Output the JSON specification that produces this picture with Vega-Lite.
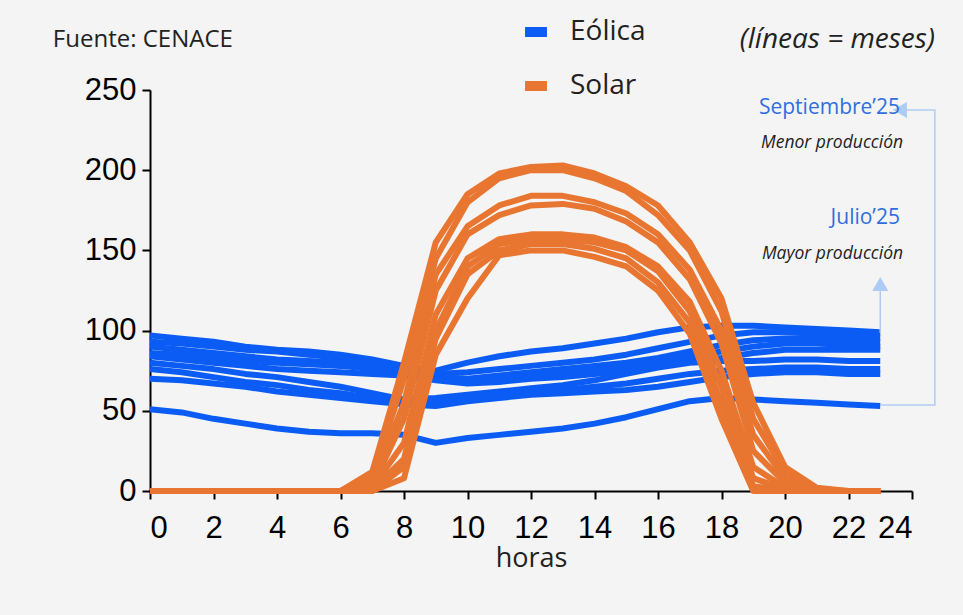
{
  "$schema": "https://vega.github.io/schema/vega-lite/v6.json",
  "autosize": "none",
  "width": 762,
  "height": 401,
  "padding": {"left": 150, "top": 90, "right": 51, "bottom": 124},
  "background": "#f4f4f4",
  "config": {
    "view": {"stroke": null},
    "font": "Liberation Sans",
    "axis": {"domainColor": "black", "tickColor": "black", "domainWidth": 2, "tickWidth": 2, "tickSize": 8, "labelFontSize": 31, "labelColor": "black", "grid": false, "labelFont": "Liberation Sans"}
  },
  "datasets": {
    "prod": [
      {"h":0,"w1":97,"w2":93,"w3":90,"w4":86,"w5":84,"w6":80,"w7":76,"w8":70,"w9":51,"s1":0,"s2":0,"s3":0,"s4":0,"s5":0,"s6":0,"s7":0,"s8":0},
      {"h":1,"w1":95,"w2":92,"w3":88,"w4":85,"w5":82,"w6":78,"w7":74,"w8":69,"w9":49,"s1":0,"s2":0,"s3":0,"s4":0,"s5":0,"s6":0,"s7":0,"s8":0},
      {"h":2,"w1":93,"w2":90,"w3":86,"w4":83,"w5":80,"w6":76,"w7":71,"w8":67,"w9":45,"s1":0,"s2":0,"s3":0,"s4":0,"s5":0,"s6":0,"s7":0,"s8":0},
      {"h":3,"w1":90,"w2":88,"w3":84,"w4":81,"w5":78,"w6":73,"w7":68,"w8":65,"w9":42,"s1":0,"s2":0,"s3":0,"s4":0,"s5":0,"s6":0,"s7":0,"s8":0},
      {"h":4,"w1":88,"w2":87,"w3":82,"w4":80,"w5":76,"w6":71,"w7":66,"w8":62,"w9":39,"s1":0,"s2":0,"s3":0,"s4":0,"s5":0,"s6":0,"s7":0,"s8":0},
      {"h":5,"w1":87,"w2":85,"w3":81,"w4":79,"w5":75,"w6":68,"w7":63,"w8":60,"w9":37,"s1":0,"s2":0,"s3":0,"s4":0,"s5":0,"s6":0,"s7":0,"s8":0},
      {"h":6,"w1":85,"w2":83,"w3":80,"w4":78,"w5":74,"w6":65,"w7":61,"w8":58,"w9":36,"s1":0,"s2":0,"s3":0,"s4":0,"s5":0,"s6":0,"s7":0,"s8":0},
      {"h":7,"w1":82,"w2":80,"w3":78,"w4":76,"w5":73,"w6":61,"w7":58,"w8":56,"w9":36,"s1":12,"s2":8,"s3":5,"s4":3,"s5":2,"s6":1,"s7":0,"s8":0},
      {"h":8,"w1":78,"w2":76,"w3":75,"w4":74,"w5":72,"w6":57,"w7":55,"w8":54,"w9":35,"s1":80,"s2":70,"s3":55,"s4":45,"s5":30,"s6":20,"s7":15,"s8":8},
      {"h":9,"w1":75,"w2":73,"w3":71,"w4":70,"w5":69,"w6":58,"w7":56,"w8":53,"w9":30,"s1":155,"s2":145,"s3":135,"s4":125,"s5":110,"s6":100,"s7":95,"s8":85},
      {"h":10,"w1":80,"w2":74,"w3":70,"w4":68,"w5":67,"w6":60,"w7":58,"w8":56,"w9":33,"s1":185,"s2":180,"s3":165,"s4":160,"s5":145,"s6":140,"s7":135,"s8":120},
      {"h":11,"w1":84,"w2":76,"w3":72,"w4":70,"w5":68,"w6":62,"w7":60,"w8":58,"w9":35,"s1":198,"s2":195,"s3":178,"s4":172,"s5":157,"s6":154,"s7":150,"s8":147},
      {"h":12,"w1":87,"w2":78,"w3":74,"w4":72,"w5":70,"w6":64,"w7":61,"w8":60,"w9":37,"s1":202,"s2":200,"s3":184,"s4":178,"s5":160,"s6":157,"s7":154,"s8":150},
      {"h":13,"w1":89,"w2":80,"w3":76,"w4":73,"w5":71,"w6":66,"w7":63,"w8":61,"w9":39,"s1":203,"s2":200,"s3":184,"s4":179,"s5":160,"s6":157,"s7":154,"s8":150},
      {"h":14,"w1":92,"w2":82,"w3":78,"w4":75,"w5":73,"w6":69,"w7":65,"w8":62,"w9":42,"s1":198,"s2":195,"s3":180,"s4":176,"s5":158,"s6":155,"s7":151,"s8":146},
      {"h":15,"w1":95,"w2":85,"w3":80,"w4":77,"w5":75,"w6":73,"w7":67,"w8":63,"w9":46,"s1":190,"s2":187,"s3":173,"s4":168,"s5":152,"s6":150,"s7":145,"s8":140},
      {"h":16,"w1":99,"w2":89,"w3":83,"w4":80,"w5":78,"w6":77,"w7":70,"w8":65,"w9":51,"s1":178,"s2":172,"s3":160,"s4":155,"s5":140,"s6":137,"s7":130,"s8":125},
      {"h":17,"w1":102,"w2":93,"w3":87,"w4":84,"w5":81,"w6":80,"w7":73,"w8":68,"w9":56,"s1":155,"s2":150,"s3":138,"s4":132,"s5":118,"s6":112,"s7":105,"s8":98},
      {"h":18,"w1":103,"w2":97,"w3":91,"w4":87,"w5":83,"w6":81,"w7":75,"w8":71,"w9":58,"s1":120,"s2":112,"s3":100,"s4":92,"s5":75,"s6":65,"s7":55,"s8":45},
      {"h":19,"w1":103,"w2":99,"w3":94,"w4":90,"w5":86,"w6":81,"w7":76,"w8":73,"w9":57,"s1":55,"s2":45,"s3":35,"s4":25,"s5":15,"s6":8,"s7":3,"s8":0},
      {"h":20,"w1":102,"w2":99,"w3":95,"w4":92,"w5":88,"w6":82,"w7":77,"w8":74,"w9":56,"s1":15,"s2":12,"s3":8,"s4":5,"s5":2,"s6":1,"s7":0,"s8":0},
      {"h":21,"w1":101,"w2":98,"w3":95,"w4":92,"w5":88,"w6":82,"w7":77,"w8":74,"w9":55,"s1":2,"s2":1,"s3":0,"s4":0,"s5":0,"s6":0,"s7":0,"s8":0},
      {"h":22,"w1":100,"w2":97,"w3":94,"w4":91,"w5":88,"w6":81,"w7":76,"w8":73,"w9":54,"s1":0,"s2":0,"s3":0,"s4":0,"s5":0,"s6":0,"s7":0,"s8":0},
      {"h":23,"w1":99,"w2":96,"w3":93,"w4":90,"w5":88,"w6":81,"w7":76,"w8":73,"w9":53,"s1":0,"s2":0,"s3":0,"s4":0,"s5":0,"s6":0,"s7":0,"s8":0}
    ]
  },
  "layer": [
    {
      "data": {"name": "prod"},
      "transform": [
        {"fold": ["w1","w2","w3","w4","w5","w6","w7","w8","w9","s1","s2","s3","s4","s5","s6","s7","s8"], "as": ["serie", "v"]},
        {"calculate": "indexof(datum.serie, 's') === 0 ? 'Solar' : 'Eólica'", "as": "tipo"}
      ],
      "mark": {"type": "line", "strokeWidth": 6, "strokeJoin": "round"},
      "encoding": {
        "x": {"field": "h", "type": "quantitative", "scale": {"domain": [0, 24], "nice": false},
          "axis": {"values": [0,2,4,6,8,10,12,14,16,18,20,22,24], "title": "horas", "titleFontSize": 27, "titleFontWeight": "normal", "titleColor": "#222", "titleFont": "Open Sans", "labelPadding": 14, "titlePadding": 2}},
        "y": {"field": "v", "type": "quantitative", "scale": {"domain": [0, 250], "nice": false},
          "axis": {"values": [0,50,100,150,200,250], "title": null, "labelPadding": 6}},
        "color": {"field": "tipo", "type": "nominal", "sort": ["Eólica", "Solar"],
          "scale": {"domain": ["Eólica", "Solar"], "range": ["#0a5cf5", "#e87530"]},
          "legend": {"title": null, "orient": "none", "legendX": 370, "legendY": -74, "labelFontSize": 28, "labelFont": "Open Sans", "labelColor": "#222", "symbolType": "stroke", "symbolSize": 480, "symbolStrokeWidth": 10, "rowPadding": 14, "labelOffset": 18}},
        "detail": {"field": "serie"},
        "order": {"field": "h"}
      }
    },
    {
      "data": {"values": [
        {"x": 23, "y": 98.5, "g": "a"}, {"x": 23, "y": 126, "g": "a"},
        {"x": 23, "y": 53.6, "g": "b"}, {"x": 24.72, "y": 53.6, "g": "b"}, {"x": 24.72, "y": 237.5, "g": "b"}, {"x": 23.75, "y": 237.5, "g": "b"}
      ]},
      "mark": {"type": "line", "color": "#aecbf5", "strokeWidth": 1.5, "clip": false},
      "encoding": {"x": {"field": "x", "type": "quantitative"}, "y": {"field": "y", "type": "quantitative"}, "detail": {"field": "g"}, "order": {"field": "y", "sort": "ascending"}}
    },
    {
      "data": {"values": [{"x": 23, "y": 129, "s": "triangle-up"}, {"x": 23.62, "y": 237.5, "s": "triangle-left"}]},
      "mark": {"type": "point", "filled": true, "color": "#aecbf5", "opacity": 1, "size": 260, "clip": false},
      "encoding": {"x": {"field": "x", "type": "quantitative"}, "y": {"field": "y", "type": "quantitative"}, "shape": {"field": "s", "type": "nominal", "scale": null}}
    },
    {
      "data": {"values": [
        {"x": 23.62, "y": 239, "t": "Septiembre’25"},
        {"x": 23.62, "y": 170, "t": "Julio’25"}
      ]},
      "mark": {"type": "text", "align": "right", "baseline": "middle", "font": "Open Sans", "fontSize": 21, "color": "#2e6fe0", "clip": false},
      "encoding": {"x": {"field": "x", "type": "quantitative"}, "y": {"field": "y", "type": "quantitative"}, "text": {"field": "t"}}
    },
    {
      "data": {"values": [
        {"x": 23.72, "y": 217, "t": "Menor producción"},
        {"x": 23.72, "y": 147.5, "t": "Mayor producción"}
      ]},
      "mark": {"type": "text", "align": "right", "baseline": "middle", "font": "Open Sans", "fontStyle": "italic", "fontSize": 17.5, "color": "#222", "clip": false},
      "encoding": {"x": {"field": "x", "type": "quantitative"}, "y": {"field": "y", "type": "quantitative"}, "text": {"field": "t"}}
    },
    {
      "data": {"values": [{"x": -3.06, "y": 281, "t": "Fuente: CENACE"}]},
      "mark": {"type": "text", "align": "left", "baseline": "middle", "font": "Open Sans", "fontSize": 24, "color": "#222", "clip": false},
      "encoding": {"x": {"field": "x", "type": "quantitative"}, "y": {"field": "y", "type": "quantitative"}, "text": {"field": "t"}}
    },
    {
      "data": {"values": [{"x": 24.72, "y": 281, "t": "(líneas = meses)"}]},
      "mark": {"type": "text", "align": "right", "baseline": "middle", "font": "Open Sans", "fontStyle": "italic", "fontSize": 28, "color": "#222", "clip": false},
      "encoding": {"x": {"field": "x", "type": "quantitative"}, "y": {"field": "y", "type": "quantitative"}, "text": {"field": "t"}}
    }
  ]
}
